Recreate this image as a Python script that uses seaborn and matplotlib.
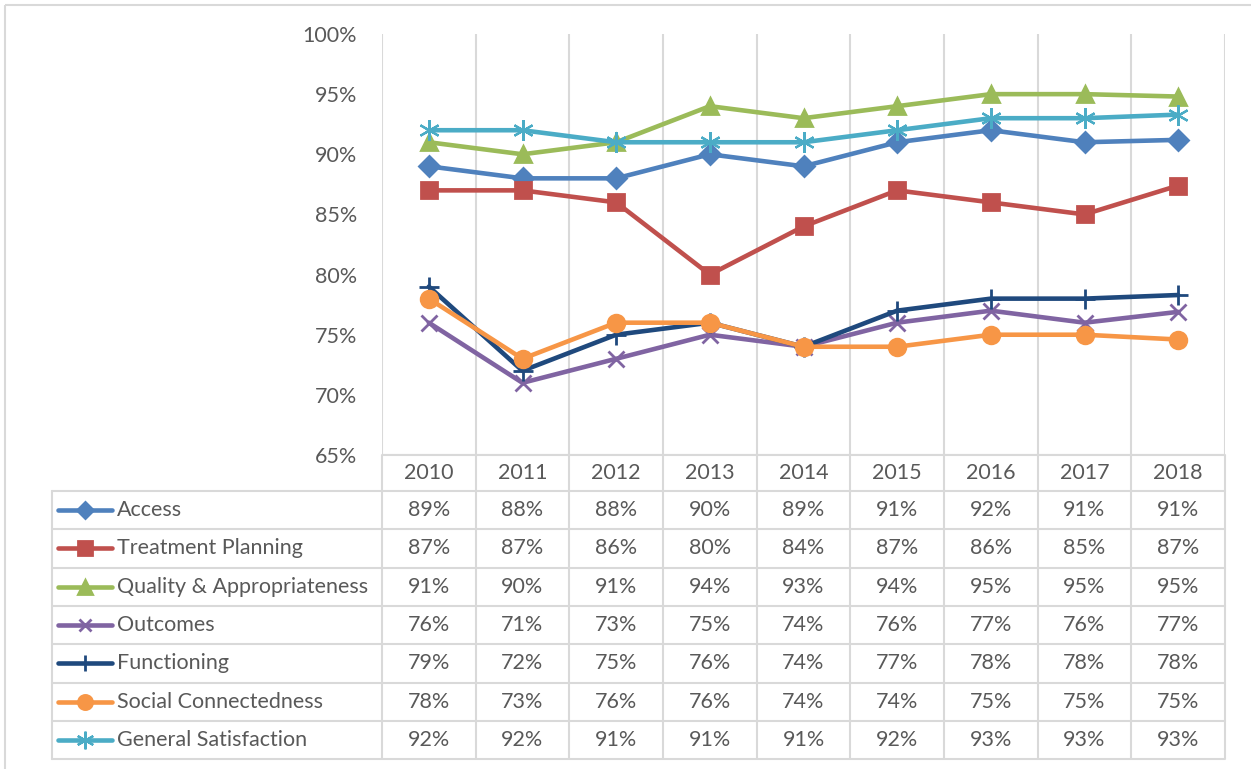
import matplotlib
matplotlib.use("Agg")
import matplotlib.pyplot as plt
import matplotlib.transforms as mtransforms
from matplotlib.patches import Rectangle
import seaborn as sns

# chart data
years = ["2010", "2011", "2012", "2013", "2014", "2015", "2016", "2017", "2018"]
series_names = ["Access", "Treatment Planning", "Quality & Appropriateness", "Outcomes",
                "Functioning", "Social Connectedness", "General Satisfaction"]
access = [89, 88, 88, 90, 89, 91, 92, 91, 91.2]
treatment = [87, 87, 86, 80, 84, 87, 86, 85, 87.4]
quality = [91, 90, 91, 94, 93, 94, 95, 95, 94.8]
outcomes = [76, 71, 73, 75, 74, 76, 77, 76, 76.9]
functioning = [79, 72, 75, 76, 74, 77, 78, 78, 78.3]
social = [78, 73, 76, 76, 74, 74, 75, 75, 74.6]
general = [92, 92, 91, 91, 91, 92, 93, 93, 93.3]
y_ticks = [65, 70, 75, 80, 85, 90, 95, 100]

values = [access, treatment, quality, outcomes, functioning, social, general]
colors = ["#4F81BD", "#C0504D", "#9BBB59", "#8064A2", "#1F497D", "#F79646", "#4BACC6"]
markers = ["D", "s", "^", "x", "+", "o", (6, 2, 0)]
msizes = [10, 12, 12, 11, 14, 12, 15]
mews = [2, 2, 2, 2, 2, 2, 1.6]

sns.set_style("white")
plt.rcParams["font.family"] = ["Lato", "DejaVu Sans"]
text_color = "#595959"
grid_color = "#D9D9D9"
fs = 15.5

W, H = 1251, 769
fig = plt.figure(figsize=(W / 100, H / 100), dpi=100)

# overlay in pixel coordinates for the data table
ov = fig.add_axes([0, 0, 1, 1], zorder=0)
ov.set_xlim(0, W)
ov.set_ylim(H, 0)
ov.axis("off")

ax = fig.add_axes([382 / W, 1 - 455 / H, (1225 - 382) / W, (455 - 34) / H], zorder=1)
ax.patch.set_alpha(0)

x = list(range(len(years)))
for name, vals, c, m, ms, mew in zip(series_names, values, colors, markers, msizes, mews):
    sns.lineplot(x=x, y=vals, ax=ax, color=c, marker=m, markersize=ms,
                 markeredgecolor=c, markerfacecolor=c, markeredgewidth=mew,
                 linewidth=3.3, label=name, legend=False)

ax.set_xlim(-0.5, len(years) - 0.5)
ax.set_ylim(65, 100)
ax.set_yticks(y_ticks)
ax.set_yticklabels([f"{t}%" for t in y_ticks], fontsize=fs, color=text_color)
ax.tick_params(axis="y", length=0, pad=18)
ax.set_xticks([])
for s in ax.spines.values():
    s.set_visible(False)
for k in range(len(years) + 1):
    ax.axvline(k - 0.5, color=grid_color, lw=1.5, zorder=0)
ax.axhline(65, color=grid_color, lw=1.5, zorder=0)

# table
bt = mtransforms.blended_transform_factory(ax.transData, ov.transData)
row_top = 455
head_h = 36
row_h = 38.3
rows_start = row_top + head_h
table_bottom = rows_start + row_h * len(series_names)

for k in range(len(years) + 1):
    ov.plot([k - 0.5, k - 0.5], [row_top, table_bottom], color=grid_color, lw=1.5,
            transform=bt, solid_capstyle="butt")
ov.plot([52, 52], [rows_start, table_bottom], color=grid_color, lw=1.5)
ov.plot([382, 1225], [rows_start - head_h, rows_start - head_h], color=grid_color, lw=1.5)
for r in range(len(series_names) + 1):
    yy = rows_start + r * row_h
    ov.plot([52, 1225], [yy, yy], color=grid_color, lw=1.5)

for i, yr in enumerate(years):
    ov.text(i, row_top + head_h / 2, yr, transform=bt, ha="center", va="center",
            fontsize=fs, color=text_color)

for r, (name, vals, c, m, ms, mew) in enumerate(zip(series_names, values, colors, markers, msizes, mews)):
    yc = rows_start + (r + 0.5) * row_h
    ov.plot([58, 85, 112], [yc, yc, yc], color=c, lw=3.3, marker=m, markevery=[1],
            markersize=ms * 0.85, markeredgecolor=c, markerfacecolor=c, markeredgewidth=mew)
    ov.text(117, yc, name, ha="left", va="center", fontsize=fs, color=text_color)
    for i, v in enumerate(vals):
        ov.text(i, yc, f"{round(v)}%", transform=bt, ha="center", va="center",
                fontsize=fs, color=text_color)

# outer chart border
ov.add_patch(Rectangle((5, 5), W, H, fill=False, edgecolor=grid_color, lw=1.5))

fig.savefig("out.png", dpi=100)
